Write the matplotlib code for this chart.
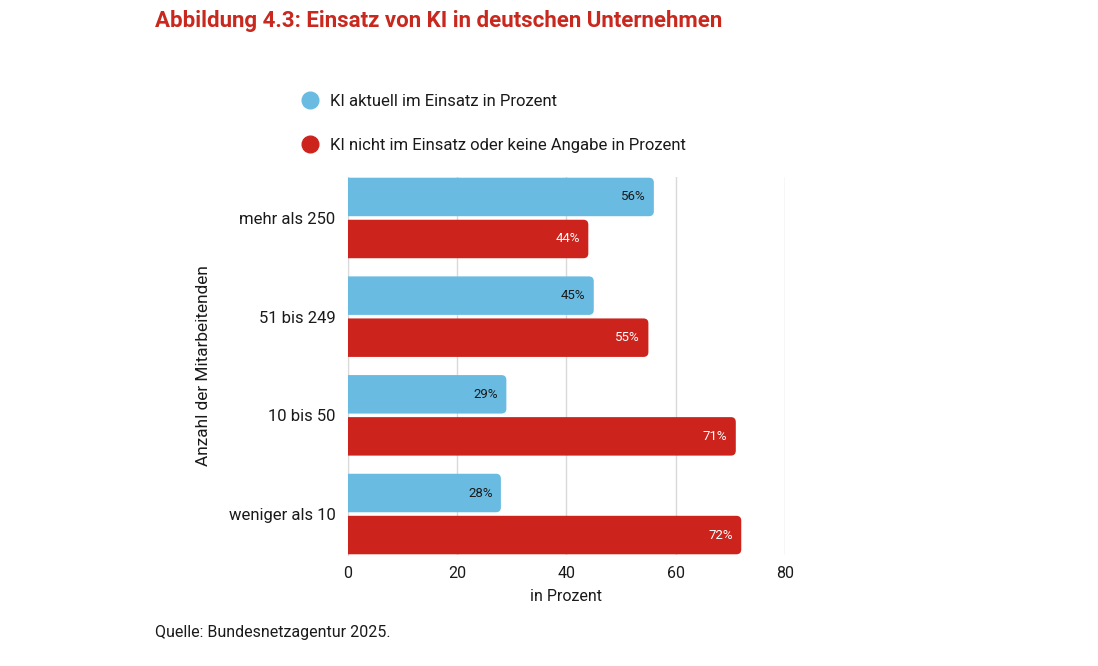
import matplotlib.pyplot as plt
from matplotlib.patches import FancyBboxPatch
from matplotlib.lines import Line2D

plt.rcParams['font.family'] = ['Roboto', 'DejaVu Sans']

categories = ['mehr als 250', '51 bis 249', '10 bis 50', 'weniger als 10']
im_einsatz = [56, 45, 29, 28]
nicht_im_einsatz = [44, 55, 71, 72]
series_names = ['KI aktuell im Einsatz in Prozent',
                'KI nicht im Einsatz oder keine Angabe in Prozent']
xticks = [0, 20, 40, 60, 80]

BLUE = '#69bbe2'
RED = '#cc241d'
TITLE_RED = '#c8281e'

fig = plt.figure(figsize=(10.98, 6.66), dpi=100)
ax = fig.add_axes([0.3169, 0.1667, 0.398, 0.5675])

bar_h = 0.39
off = 0.213
rx = 0.9          # corner radius in x units
aspect = 0.055    # y/x scaling so corners look round


def rounded_bar(y, value, color):
    # start left of zero so the left corners get clipped at the axis
    p = FancyBboxPatch((-rx, y - bar_h / 2), value + rx, bar_h,
                       boxstyle='round,pad=0,rounding_size=%.3f' % rx,
                       mutation_aspect=aspect, fc=color, ec='none',
                       zorder=3, clip_on=True)
    ax.add_patch(p)
    return p


for i, (a, b) in enumerate(zip(im_einsatz, nicht_im_einsatz)):
    rounded_bar(i - off, a, BLUE)
    rounded_bar(i + off, b, RED)
    ax.text(a - 1.5, i - off, '%d%%' % a, ha='right', va='center',
            fontsize=9.5, color='#1a1a1a', zorder=4)
    ax.text(b - 1.5, i + off, '%d%%' % b, ha='right', va='center',
            fontsize=9.5, color='white', zorder=4)

ax.set_xlim(0, 80)
ax.set_ylim(len(categories) - 1 + 0.415, -0.415)
ax.set_xticks(xticks)
ax.set_yticks(range(len(categories)))
ax.set_yticklabels(categories)
ax.tick_params(axis='both', length=0, labelsize=12, colors='#1a1a1a')
ax.tick_params(axis='y', pad=9)
ax.tick_params(axis='x', pad=8, labelsize=11.5)
ax.grid(axis='x', color='#d9d9d9', linewidth=1, zorder=0)
for s in ['top', 'right', 'bottom']:
    ax.spines[s].set_visible(False)
ax.spines['left'].set_color('#d9d9d9')

ax.set_xlabel('in Prozent', fontsize=11.5, color='#1a1a1a', labelpad=6)
ax.set_ylabel('Anzahl der Mitarbeitenden', fontsize=12.4, color='#1a1a1a')
ax.yaxis.set_label_coords(-0.3135, 0.5)

fig.text(155 / 1098, 1 - 21 / 666, 'Abbildung 4.3: Einsatz von KI in deutschen Unternehmen',
         fontsize=16, fontweight='bold', color=TITLE_RED, va='center')

handles = [Line2D([], [], marker='o', ls='none', ms=12, mfc=c, mec=c)
           for c in (BLUE, RED)]
fig.legend(handles, series_names, loc='upper left',
           bbox_to_anchor=(283 / 1098, 1 - 79 / 666), frameon=False,
           fontsize=12, labelspacing=1.75, handletextpad=0.5,
           handlelength=1.4, labelcolor='#1a1a1a')

fig.text(155 / 1098, 1 - 633 / 666, 'Quelle: Bundesnetzagentur 2025.',
         fontsize=11.5, color='#1a1a1a', va='center')

fig.savefig('out.png', dpi=100)
